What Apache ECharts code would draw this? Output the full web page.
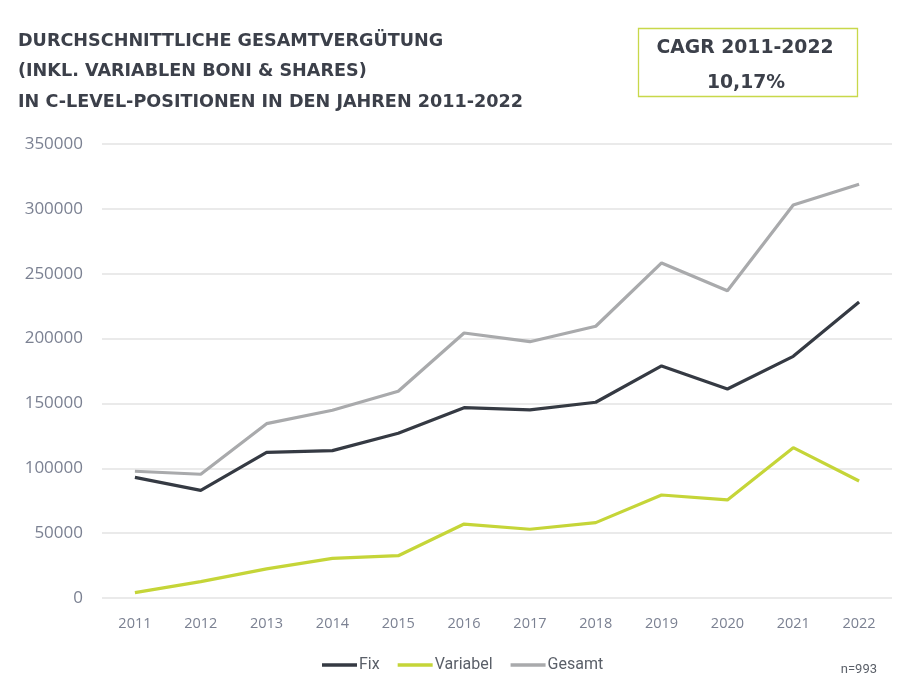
<!DOCTYPE html>
<html>
<head>
<meta charset="utf-8">
<script src="https://cdn.jsdelivr.net/npm/echarts@6/dist/echarts.min.js"></script>
<style>
html,body{margin:0;padding:0;background:#fff;}
#chart{width:921px;height:688px;}
</style>
</head>
<body>
<div id="chart"></div>
<script>
var years = ['2011','2012','2013','2014','2015','2016','2017','2018','2019','2020','2021','2022'];
var fix = [93000, 83000, 112300, 113600, 127000, 146700, 145000, 150900, 178900, 161100, 186300, 228200];
var variabel = [4100, 12600, 22400, 30600, 32600, 57000, 53000, 58100, 79400, 75600, 115900, 90200];
var gesamt = [97700, 95400, 134400, 144700, 159400, 204300, 197600, 209500, 258300, 236900, 303000, 319000];
var seriesNames = ['Fix', 'Variabel', 'Gesamt'];
var titleLines = ['DURCHSCHNITTLICHE GESAMTVERGÜTUNG', '(INKL. VARIABLEN BONI & SHARES)', 'IN C-LEVEL-POSITIONEN IN DEN JAHREN 2011-2022'];
var cagrLabel = 'CAGR 2011-2022';
var cagrValue = '10,17%';
var noteText = 'n=993';

var colors = ['#353a43', '#c5d538', '#a9aaac'];
var chart = echarts.init(document.getElementById('chart'));
var option = {
  backgroundColor: '#fff',
  animation: false,
  color: colors,
  title: {
    text: titleLines.join('\n'),
    left: 13, top: 21,
    textStyle: {fontFamily: 'DejaVu Sans', fontWeight: 'bold', fontSize: 17.6, color: '#3c404a', lineHeight: 30.5}
  },
  legend: {
    data: seriesNames,
    top: 652, left: 317,
    itemWidth: 35, itemHeight: 3.5, itemGap: 18,
    icon: 'rect',
    textStyle: {fontFamily: 'Roboto', fontSize: 16, color: '#5a5f68', padding: [0,0,0,-3]}
  },
  grid: {left: 102, right: 29, top: 144, bottom: 90},
  xAxis: {
    type: 'category', data: years, boundaryGap: true,
    axisLine: {show: false}, axisTick: {show: false},
    axisLabel: {margin: 18, fontFamily: 'Open Sans', fontSize: 14.5, color: '#7b8192'}
  },
  yAxis: {
    type: 'value', min: 0, max: 350000, interval: 50000,
    axisLine: {show: false}, axisTick: {show: false},
    axisLabel: {margin: 19, fontFamily: 'Open Sans', fontSize: 17, color: '#7b8192', formatter: function (v) { return String(v); }},
    splitLine: {lineStyle: {color: '#e3e3e3', width: 1.5}}
  },
  graphic: [
    {type: 'rect', shape: {x: 638.5, y: 28.5, width: 219, height: 68}, style: {fill: '#fff', stroke: '#c8d84a', lineWidth: 1.3}},
    {type: 'text', x: 745, y: 48, style: {text: cagrLabel, fontFamily: 'DejaVu Sans', fontWeight: 'bold', fontSize: 18.8, fill: '#3c404a', align: 'center', verticalAlign: 'middle'}},
    {type: 'text', x: 746, y: 83, style: {text: cagrValue, fontFamily: 'DejaVu Sans', fontWeight: 'bold', fontSize: 18.8, fill: '#3c404a', align: 'center', verticalAlign: 'middle'}},
    {type: 'text', x: 877, y: 670, style: {text: noteText, fontFamily: 'Roboto', fontSize: 13, fill: '#5a5f68', align: 'right', verticalAlign: 'middle'}}
  ],
  series: [
    {name: seriesNames[0], type: 'line', data: fix, symbol: 'none', lineStyle: {width: 3.2, color: colors[0]}, z: 3},
    {name: seriesNames[1], type: 'line', data: variabel, symbol: 'none', lineStyle: {width: 3.2, color: colors[1]}, z: 2},
    {name: seriesNames[2], type: 'line', data: gesamt, symbol: 'none', lineStyle: {width: 3.2, color: colors[2]}, z: 1}
  ]
};
chart.setOption(option);
</script>
</body>
</html>
